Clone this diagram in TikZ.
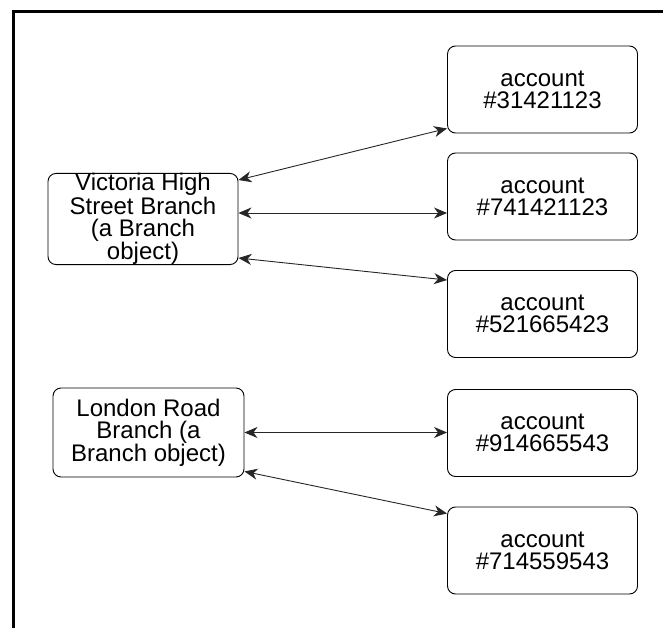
\documentclass[tikz,border=0pt]{standalone}
\usepackage{fontspec}
\setmainfont{Liberation Sans}
\usetikzlibrary{arrows.meta,calc}
\begin{document}
\begin{tikzpicture}[x=1pt,y=-1pt,
  objbox/.style={draw=black, line width=0.9pt, rounded corners=8pt, inner sep=0pt,
    align=center, font=\fontsize{24}{22}\selectfont},
  acct/.style={objbox, minimum width=190pt, minimum height=87pt},
  link/.style={draw=black!85, line width=0.9pt,
    {Stealth[length=13pt,width=11pt,inset=4pt]}-{Stealth[length=13pt,width=11pt,inset=4pt]}}
]
\useasboundingbox (0,0) rectangle (663,628);

% frame (top and left edges)
\draw[line width=3pt] (13.5,628) -- (13.5,11.5) -- (663,11.5);

% branch objects
\node[objbox, minimum width=190pt, minimum height=90pt] (vic) at (143,219)
  {Victoria High\\Street Branch\\(a Branch\\object)};
\node[objbox, minimum width=191pt, minimum height=89pt] (lon) at (148.5,432.5)
  {London Road\\Branch (a\\Branch object)};

% account objects
\node[acct] (a1) at (542.5,89.5)  {account\\\#31421123};
\node[acct] (a2) at (542.5,196.5) {account\\\#741421123};
\node[acct] (a3) at (542.5,314)   {account\\\#521665423};
\node[acct] (a4) at (542.5,433)   {account\\\#914665543};
\node[acct] (a5) at (542.5,550.5) {account\\\#714559543};

% links between branches and accounts
\coordinate (v1) at ($(vic.north east)+(0,7)$);
\coordinate (e1) at ($(a1.south west)+(0,-5)$);
\coordinate (v2) at ($(vic.east)+(0,-6)$);
\coordinate (v3) at ($(vic.south east)+(0,-7)$);
\coordinate (e3) at ($(a3.north west)+(0,10)$);
\coordinate (l5) at ($(lon.south east)+(0,-6)$);
\coordinate (e5) at ($(a5.north west)+(0,7)$);

\draw[link] (v1) -- (e1);
\draw[link] (v2) -- (v2 -| a2.west);
\draw[link] (v3) -- (e3);
\draw[link] (lon.east) -- (lon.east -| a4.west);
\draw[link] (l5) -- (e5);
\end{tikzpicture}
\end{document}
